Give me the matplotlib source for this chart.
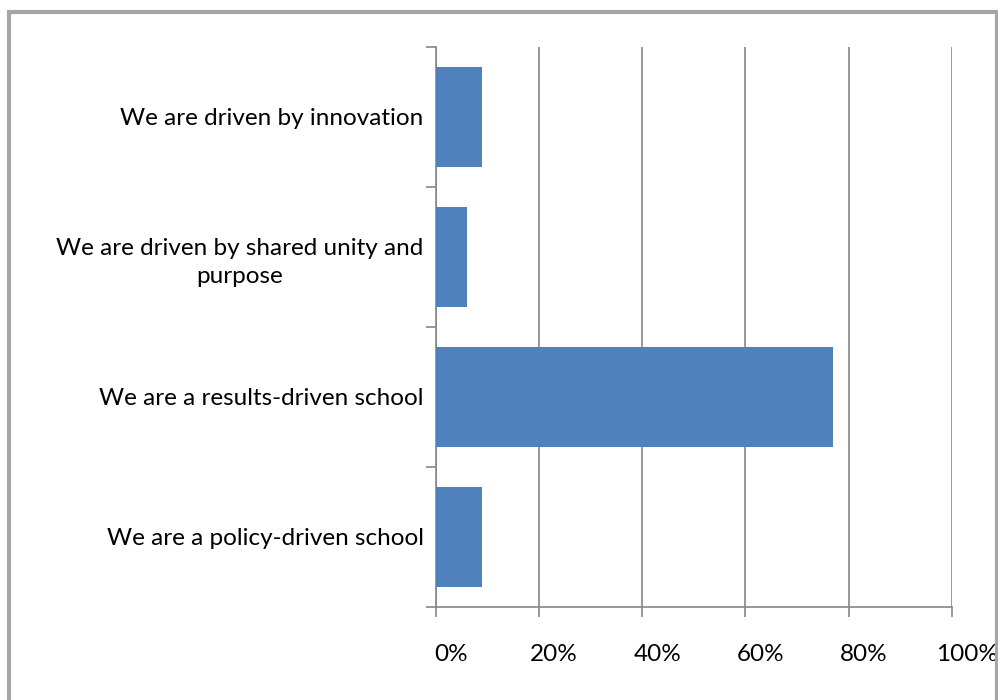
import matplotlib
matplotlib.use('Agg')
import matplotlib.pyplot as plt
import matplotlib.transforms as mtransforms
from matplotlib.patches import Rectangle
import numpy as np

# bottom to top
categories = ["We are a policy-driven school",
              "We are a results-driven school",
              "We are driven by shared unity and\npurpose",
              "We are driven by innovation"]
values = [9, 77, 6, 9]
xticks = [0, 20, 40, 60, 80, 100]

plt.rcParams['font.family'] = ['Lato', 'DejaVu Sans']

fig = plt.figure(figsize=(9.98, 7), dpi=100)
ax = fig.add_axes([0.4369, 0.1333, 0.5167, 0.8])

grey = '#868686'
ypos = np.arange(len(categories)) + 0.5
ax.barh(ypos, values, height=0.714, color='#4F81BD', zorder=3)

ax.set_xlim(0, 100)
ax.set_ylim(0, len(categories))
ax.set_xticks(xticks)
ax.set_xticklabels([f"{t}%" for t in xticks], fontsize=17.5)
ax.xaxis.grid(True, color=grey, linewidth=1.2, zorder=0)
ax.tick_params(axis='x', length=7, width=1.2, color=grey, pad=20)

# percent labels sit a little right of their gridlines
shift = mtransforms.ScaledTranslation(15 / 100, 0, fig.dpi_scale_trans)
for lbl in ax.get_xticklabels():
    lbl.set_transform(lbl.get_transform() + shift)

ax.set_yticks(ypos)
ax.set_yticklabels(categories, fontsize=17.5, ha='right', multialignment='center',
                   linespacing=1.45)
ax.set_yticks(np.arange(len(categories) + 1), minor=True)
ax.tick_params(axis='y', which='major', length=0, pad=9)
ax.tick_params(axis='y', which='minor', length=7, width=1.2, color=grey)

for s in ['top', 'right']:
    ax.spines[s].set_visible(False)
for s in ['left', 'bottom']:
    ax.spines[s].set_color(grey)
    ax.spines[s].set_linewidth(1.2)

# outer chart border
fig.patches.append(Rectangle((0.009, -0.05), 0.9895, 1.033, transform=fig.transFigure,
                             fill=False, edgecolor='#A6A6A6', linewidth=3))

fig.savefig('out.png', dpi=100)
